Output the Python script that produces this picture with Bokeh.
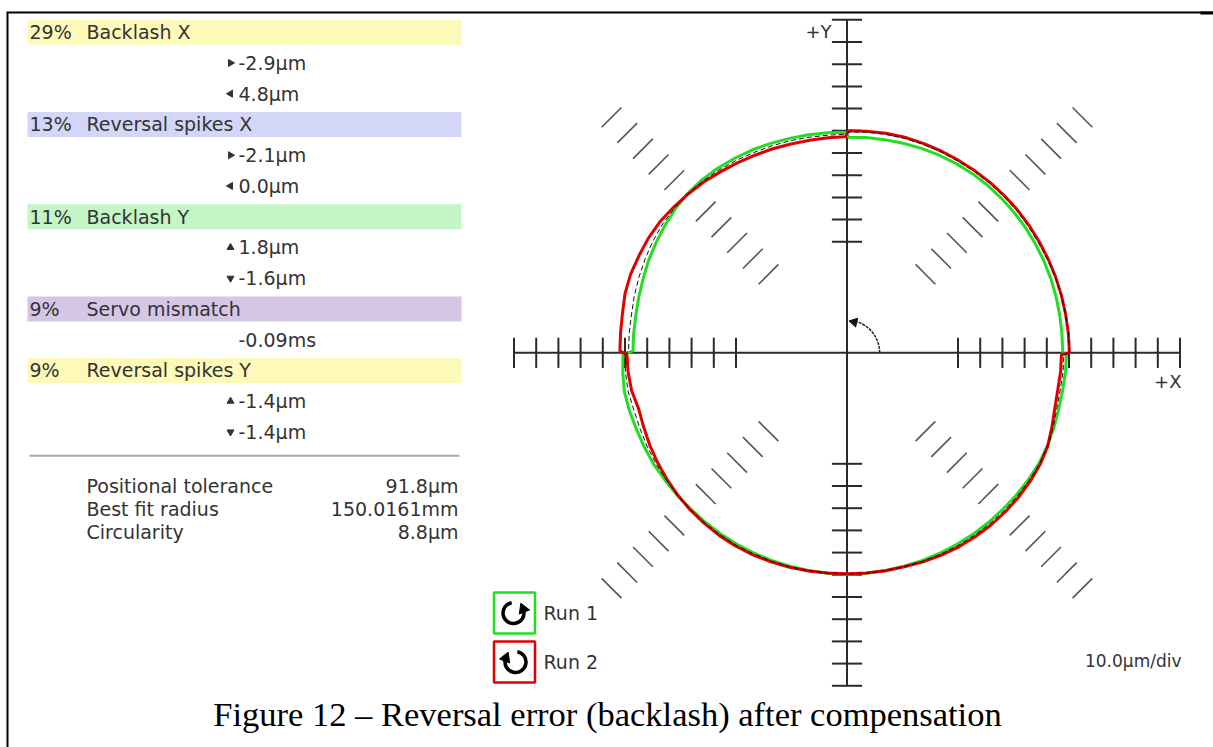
import math
from bokeh.plotting import figure
from bokeh.models import Range1d, ColumnDataSource
from bokeh.core.properties import value
from bokeh.embed import file_html
from bokeh.resources import INLINE

# ---------------- data ----------------
issues = ["Backlash X", "Reversal spikes X", "Backlash Y", "Servo mismatch", "Reversal spikes Y"]
shares = [29, 13, 11, 9, 9]
first_vals = [-2.9, -2.1, 1.8, -0.09, -1.4]
second_vals = [4.8, 0.0, -1.6, None, -1.4]
units = ["µm", "µm", "µm", "ms", "µm"]
decimals = [1, 1, 1, 2, 1]
markers_dir = [("right", "left"), ("right", "left"), ("up", "down"), (), ("up", "down")]
band_colors = ["#fdf9b8", "#d3d6f6", "#c4f5c4", "#d6c6e6", "#fdf9b8"]

stat_labels = ["Positional tolerance", "Best fit radius", "Circularity"]
stat_values = ["91.8µm", "150.0161mm", "8.8µm"]

scale_um_per_div = 10.0
nominal_div = 10.0
tick_divs = [5, 6, 7, 8, 9, 10, 11, 12, 13, 14, 15]
hash_divs = [5, 6, 7, 8, 9, 11, 12, 13, 14, 15]
hash_angles = [45, 135, 225, 315]

angles_deg = [0, 5, 10, 15, 20, 25, 30, 35, 40, 45, 50, 55, 60, 65, 70, 75, 80, 85, 89.5,
              90.5, 95, 100, 105, 110, 115, 120, 125, 130, 135, 140, 145, 150, 155, 160, 165, 170, 175, 179.5,
              180.5, 185, 190, 195, 200, 205, 210, 215, 220, 225, 230, 235, 240, 245, 250, 255, 260, 265,
              270, 275, 280, 285, 290, 295, 300, 305, 310, 315, 320, 325, 330, 335, 340, 345, 350, 355, 359.5]
run1_dev_um = [-2.8, -2.8, -2.7, -2.5, -2.3, -2.1, -2.0, -1.8, -1.7, -1.6, -1.5, -1.5, -1.6, -1.8, -2.0, -2.3, -2.5, -2.7, -2.9,
               -0.6, -0.5, -0.3, 0.0, 0.4, 0.9, 1.2, 1.5, 1.7, 1.5, 0.9, 0.1, -0.7, -1.4, -2.3, -2.9, -3.4, -3.5, -3.6,
               0.9, 1.4, 1.8, 1.4, 0.9, 0.7, 0.5, 0.1, -0.2, -0.5, -0.5, -0.5, -0.5, -0.5, -0.5, -0.5, -0.4, -0.3,
               -0.2, -0.3, -0.4, -0.5, -0.5, -0.5, -0.5, -0.5, -0.5, -0.5, -0.4, -0.3, -0.2, -0.4, -0.9, -1.3, -1.4, -1.2, -1.1]
run2_dev_um = [0.2, 0.1, 0.0, 0.0, 0.0, 0.0, 0.0, 0.1, 0.2, 0.2, 0.2, 0.2, 0.2, 0.3, 0.4, 0.5, 0.4, 0.2, 0.0,
               -2.7, -2.8, -2.8, -2.6, -2.2, -1.8, -1.2, -0.5, 0.4, 1.2, 2.0, 2.9, 3.3, 3.4, 3.7, 3.5, 2.7, 2.4, 2.3,
               -0.9, -1.0, -1.5, -2.8, -2.5, -1.9, -1.4, -0.9, -0.4, 0.0, 0.2, 0.4, 0.5, 0.4, 0.2, 0.0, -0.2, -0.4,
               -0.5, -0.4, -0.3, -0.2, 0.2, 0.6, 0.9, 1.0, 1.1, 1.1, 1.0, 0.8, 0.5, -0.3, -1.8, -3.1, -3.6, -3.4, -3.4]
mean_dev_um = [0.2, 0.1, 0.0, -0.1, -0.2, -0.4, -0.5, -0.4, -0.3, -0.2, -0.2, -0.2, -0.2, -0.1, 0.0, 0.0, -0.1, -0.2, -0.5,
               -1.6, -1.6, -1.4, -1.1, -0.8, -0.5, 0.0, 0.5, 1.0, 1.3, 1.4, 1.3, 0.9, 0.3, -0.3, -0.8, -1.4, -1.5, -1.6,
               0.0, 0.2, 0.1, -0.6, -0.7, -0.6, -0.5, -0.4, -0.3, -0.2, -0.1, 0.0, 0.0, -0.1, -0.2, -0.2, -0.3, -0.3,
               -0.3, -0.3, -0.3, -0.3, -0.1, 0.1, 0.2, 0.3, 0.3, 0.4, 0.3, 0.2, 0.1, -0.3, -1.2, -2.2, -2.5, -2.3, -2.3]

# ---------------- layout constants ----------------
W, H = 1213, 747
S = 22.2                 # pixels per division
CX, CY = 846.5, 352.3    # centre of the polar plot in the page


def X(px):
    return (px - CX) / S


def Y(py):
    return (CY - py) / S


p = figure(width=W, height=H, x_range=Range1d(X(0), X(W)), y_range=Range1d(Y(H), Y(0)),
           output_backend="svg", toolbar_location=None, min_border=0,
           x_axis_location=None, y_axis_location=None, title=None)
p.grid.visible = False
p.outline_line_color = None
p.background_fill_color = "white"
p.border_fill_color = "white"

FONT = value("DejaVu Sans")
TXT = "#333333"

# ---------------- page border ----------------
p.line(x=[X(1213), X(7), X(7)], y=[Y(12), Y(12), Y(747)], line_color="#000000", line_width=2,
       line_join="miter")
p.line(x=[X(1200), X(1213)], y=[Y(12.5), Y(12.5)], line_color="#000000", line_width=3)

# ---------------- left panel ----------------
row0, row_h = 31.7, 30.75
band_rows, band_names, band_pcts, band_cols = [], [], [], []
val_rows, val_texts = [], []
tri_rows, tri_angles = [], []
dir_angle = {"right": -math.pi / 2, "left": math.pi / 2, "up": 0.0, "down": math.pi}
row = 0
for i, name in enumerate(issues):
    band_rows.append(row0 + row_h * row)
    band_names.append(name)
    band_pcts.append(f"{shares[i]}%")
    band_cols.append(band_colors[i])
    row += 1
    vals = [first_vals[i]] + ([second_vals[i]] if second_vals[i] is not None else [])
    for j, v in enumerate(vals):
        y = row0 + row_h * row
        val_rows.append(y)
        val_texts.append(f"{v:.{decimals[i]}f}{units[i]}")
        if markers_dir[i]:
            tri_rows.append(y)
            tri_angles.append(dir_angle[markers_dir[i][j]])
        row += 1

band_src = ColumnDataSource(dict(
    top=[Y(r - 12.5) for r in band_rows], bottom=[Y(r + 12.5) for r in band_rows],
    y=[Y(r) for r in band_rows], name=band_names, pct=band_pcts, color=band_cols))
p.quad(left=X(27), right=X(461), top="top", bottom="bottom", fill_color="color",
       line_color=None, source=band_src)
p.text(x=X(29), y="y", text="pct", source=band_src, text_font=FONT, text_font_size="19px",
       text_color=TXT, text_baseline="middle")
p.text(x=X(86), y="y", text="name", source=band_src, text_font=FONT, text_font_size="19px",
       text_color=TXT, text_baseline="middle")

val_src = ColumnDataSource(dict(y=[Y(r) for r in val_rows], t=val_texts))
p.text(x=X(238), y="y", text="t", source=val_src, text_font=FONT, text_font_size="19px",
       text_color=TXT, text_baseline="middle")
tri_src = ColumnDataSource(dict(y=[Y(r) for r in tri_rows], a=tri_angles))
p.scatter(x=X(230), y="y", angle="a", marker="triangle", size=7, source=tri_src,
          fill_color=TXT, line_color=TXT)

# separator + stats
sep_y = row0 + row_h * row - 7
p.line(x=[X(29), X(459)], y=[Y(sep_y), Y(sep_y)], line_color="#aaaaaa", line_width=2)
stat_y = [485, 508, 531]
stat_src = ColumnDataSource(dict(y=[Y(v) for v in stat_y], lab=stat_labels, val=stat_values))
p.text(x=X(86), y="y", text="lab", source=stat_src, text_font=FONT, text_font_size="19px",
       text_color=TXT, text_baseline="middle")
p.text(x=X(458), y="y", text="val", source=stat_src, text_font=FONT, text_font_size="19px",
       text_color=TXT, text_baseline="middle", text_align="right")

# ---------------- polar axes ----------------
AX = "#2a2a2a"
L = max(tick_divs)
p.segment(x0=[-L, 0], y0=[0, -L], x1=[L, 0], y1=[0, L], line_color=AX, line_width=2)
th = 0.68
tx = [s * d for d in tick_divs for s in (-1, 1)]
p.segment(x0=tx, y0=[-th] * len(tx), x1=tx, y1=[th] * len(tx), line_color=AX, line_width=2)
p.segment(x0=[-th] * len(tx), y0=tx, x1=[th] * len(tx), y1=tx, line_color=AX, line_width=2)

hx0, hy0, hx1, hy1 = [], [], [], []
hl = 0.63
for a in hash_angles:
    ar = math.radians(a)
    for d in hash_divs:
        cx, cy = d * math.cos(ar), d * math.sin(ar)
        px, py = -math.sin(ar) * hl, math.cos(ar) * hl
        hx0.append(cx - px); hy0.append(cy - py)
        hx1.append(cx + px); hy1.append(cy + py)
p.segment(x0=hx0, y0=hy0, x1=hx1, y1=hy1, line_color="#555555", line_width=1.6)

p.text(x=[X(831)], y=[Y(31)], text=["+Y"], text_font=FONT, text_font_size="18px",
       text_color=TXT, text_baseline="middle", text_align="right")
p.text(x=[X(1181)], y=[Y(381)], text=["+X"], text_font=FONT, text_font_size="18px",
       text_color=TXT, text_baseline="middle", text_align="right")
p.text(x=[X(1181)], y=[Y(660)], text=[f"{scale_um_per_div:.1f}µm/div"], text_font=FONT,
       text_font_size="17px", text_color=TXT, text_baseline="middle", text_align="right")

# centre direction arrow
p.arc(x=0, y=0, radius=1.47, start_angle=0, end_angle=math.radians(72),
      line_color="#222222", line_width=1.5, line_dash="3 1")
aa = math.radians(77)
p.scatter(x=[1.42 * math.cos(aa)], y=[1.42 * math.sin(aa)], angle=aa, marker="triangle",
          size=9, fill_color="#111111", line_color="#111111")


# ---------------- traces ----------------
def trace(devs):
    assert len(devs) == len(angles_deg)
    xs, ys = [], []
    for a, d in zip(angles_deg + [angles_deg[0]], devs + [devs[0]]):
        r = nominal_div + d / scale_um_per_div
        xs.append(r * math.cos(math.radians(a)))
        ys.append(r * math.sin(math.radians(a)))
    return xs, ys


gx, gy = trace(run1_dev_um)
rx, ry = trace(run2_dev_um)
bx, by = trace(mean_dev_um)
p.line(gx, gy, line_color="#22dd22", line_width=3, line_join="round")
p.line(rx, ry, line_color="#e00000", line_width=3, line_join="round")
p.line(bx, by, line_color="#111111", line_width=1, line_dash="5 3")

# ---------------- legend ----------------
leg_y = [612.5, 661.5]
leg_cols = ["#22dd22", "#e00000"]
leg_txt = ["Run 1", "Run 2"]
p.rect(x=[X(514)] * 2, y=[Y(v) for v in leg_y], width=41 / S, height=41 / S,
       fill_color="white", line_color=leg_cols, line_width=2.5)
ri = 10.5 / S
# run 1 : anticlockwise
p.arc(x=X(513), y=Y(leg_y[0]), radius=ri, start_angle=math.radians(100), end_angle=math.radians(12),
      line_color="black", line_width=3.5)
a1 = math.radians(22)
p.scatter(x=[X(513) + ri * math.cos(a1)], y=[Y(leg_y[0]) + ri * math.sin(a1)], angle=a1,
          marker="triangle", size=11, fill_color="black", line_color="black")
# run 2 : clockwise
p.arc(x=X(515), y=Y(leg_y[1]), radius=ri, start_angle=math.radians(168), end_angle=math.radians(80),
      line_color="black", line_width=3.5)
a2 = math.radians(158)
p.scatter(x=[X(515) + ri * math.cos(a2)], y=[Y(leg_y[1]) + ri * math.sin(a2)], angle=a2 - math.pi,
          marker="triangle", size=11, fill_color="black", line_color="black")
p.text(x=[X(543)] * 2, y=[Y(v) for v in leg_y], text=leg_txt, text_font=FONT, text_font_size="19px",
       text_color=TXT, text_baseline="middle")

# ---------------- caption ----------------
p.text(x=[X(607)], y=[Y(713)], text=["Figure 12 – Reversal error (backlash) after compensation"],
       text_font=value("Liberation Serif"), text_font_size="34.5px", text_color="black",
       text_baseline="middle", text_align="center")

open("out.html", "w").write(file_html(p, INLINE))
